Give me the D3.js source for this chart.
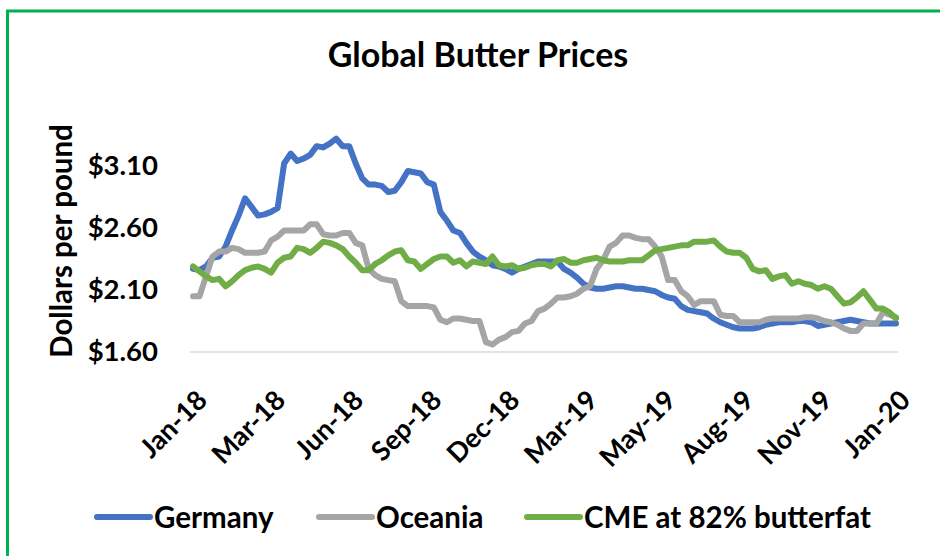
<!DOCTYPE html>
<html>
<head>
<meta charset="utf-8">
<script src="https://cdn.jsdelivr.net/npm/d3@7"></script>
<style>
  body { margin: 0; background: #fff; }
  svg { display: block; font-family: Lato, "Open Sans", sans-serif; font-weight: bold; }
</style>
</head>
<body>
<svg id="chart" width="940" height="556"></svg>
<script>
// weekly dates, Jan 5 2018 .. Jan 31 2020 (109 weeks)
var dates = d3.timeFriday.range(new Date(2018, 0, 5), new Date(2020, 1, 1));

var germany = [2.27,2.26,2.29,2.36,2.37,2.45,2.58,2.70,2.84,2.77,
  2.70,2.71,2.73,2.76,3.12,3.20,3.14,3.16,3.19,3.26,
  3.25,3.28,3.32,3.26,3.26,3.12,3.00,2.95,2.95,2.94,
  2.89,2.90,2.97,3.06,3.05,3.04,2.97,2.95,2.73,2.66,
  2.58,2.56,2.48,2.41,2.37,2.34,2.30,2.29,2.27,2.24,
  2.27,2.29,2.31,2.33,2.33,2.33,2.33,2.27,2.24,2.20,
  2.15,2.12,2.11,2.11,2.12,2.13,2.13,2.12,2.11,2.11,
  2.10,2.09,2.06,2.04,2.03,1.97,1.94,1.93,1.92,1.91,
  1.87,1.84,1.82,1.80,1.79,1.79,1.79,1.80,1.82,1.83,
  1.84,1.84,1.84,1.85,1.85,1.84,1.81,1.82,1.83,1.84,
  1.85,1.86,1.85,1.84,1.83,1.83,1.83,1.83,1.83];

var oceania = [2.05,2.05,2.21,2.37,2.41,2.41,2.44,2.43,2.40,2.40,
  2.40,2.41,2.50,2.53,2.58,2.58,2.58,2.58,2.63,2.63,
  2.55,2.54,2.54,2.56,2.56,2.48,2.46,2.27,2.22,2.19,
  2.18,2.17,2.01,1.97,1.97,1.97,1.97,1.96,1.86,1.84,
  1.87,1.87,1.86,1.85,1.85,1.68,1.66,1.70,1.72,1.76,
  1.77,1.83,1.85,1.93,1.95,1.99,2.04,2.04,2.05,2.07,
  2.11,2.13,2.27,2.34,2.45,2.48,2.54,2.54,2.52,2.51,
  2.51,2.45,2.37,2.18,2.18,2.09,2.05,1.98,2.01,2.01,
  2.01,1.90,1.89,1.89,1.84,1.84,1.84,1.84,1.86,1.87,
  1.87,1.87,1.87,1.87,1.88,1.88,1.87,1.85,1.84,1.82,
  1.79,1.77,1.77,1.83,1.83,1.83,1.92,1.90,1.88];

var cme = [2.29,2.25,2.21,2.18,2.19,2.13,2.17,2.22,2.26,2.28,
  2.29,2.27,2.24,2.32,2.36,2.37,2.44,2.43,2.40,2.44,
  2.49,2.48,2.46,2.43,2.37,2.32,2.26,2.26,2.31,2.34,
  2.38,2.41,2.42,2.34,2.33,2.27,2.31,2.35,2.37,2.37,
  2.32,2.34,2.29,2.33,2.32,2.31,2.37,2.30,2.29,2.30,
  2.27,2.28,2.30,2.31,2.31,2.29,2.34,2.35,2.32,2.32,
  2.34,2.35,2.36,2.34,2.33,2.33,2.33,2.34,2.34,2.34,
  2.38,2.42,2.43,2.44,2.45,2.46,2.46,2.49,2.49,2.49,
  2.50,2.45,2.41,2.40,2.40,2.36,2.27,2.25,2.26,2.19,
  2.21,2.22,2.15,2.17,2.15,2.14,2.11,2.13,2.11,2.05,
  1.99,2.00,2.04,2.09,2.02,1.95,1.95,1.92,1.87];

var seriesNames = ["Germany", "Oceania", "CME at 82% butterfat"];
var seriesColors = ["#4472C4", "#A5A5A5", "#70AD47"];
var yTicks = [1.6, 2.1, 2.6, 3.1];
var xTickLabels = ["Jan-18","Mar-18","Jun-18","Sep-18","Dec-18","Mar-19","May-19","Aug-19","Nov-19","Jan-20"];
var xTickStep = 12; // one label every 12 weeks

var svg = d3.select("#chart");

// outer green frame (runs off the right/bottom edge like the screenshot)
svg.append("rect")
  .attr("x", 7.5).attr("y", 11)
  .attr("width", 960).attr("height", 600)
  .attr("fill", "none")
  .attr("stroke", "#00B050")
  .attr("stroke-width", 3);

var x = d3.scaleTime()
  .domain([dates[0], dates[dates.length - 1]])
  .range([193, 896]);

var y = d3.scaleLinear()
  .domain([1.6, 3.1])
  .range([352, 166]);

// title
svg.append("text")
  .attr("x", 478).attr("y", 67)
  .attr("text-anchor", "middle")
  .style("font-size", "34px")
  .text("Global Butter Prices");

// y axis title
svg.append("text")
  .attr("transform", "translate(61,241) rotate(-90)")
  .attr("text-anchor", "middle")
  .attr("dy", "0.36em")
  .style("font-size", "29.5px")
  .text("Dollars per pound");

// y tick labels (no axis line / gridlines in the original)
var yAxis = d3.axisLeft(y)
  .tickValues(yTicks)
  .tickSize(0)
  .tickPadding(0)
  .tickFormat(d3.format("$.2f"));

var gy = svg.append("g")
  .attr("transform", "translate(158,0)")
  .call(yAxis);
gy.select(".domain").remove();
gy.selectAll("text")
  .style("font-size", "27.5px")
  .style("font-family", "Lato, sans-serif")
  .style("font-weight", "bold")
  .attr("fill", "#000");

// x axis baseline
svg.append("line")
  .attr("x1", x.range()[0] - 3).attr("x2", x.range()[1] + 2)
  .attr("y1", y(1.6)).attr("y2", y(1.6))
  .attr("stroke", "#D9D9D9")
  .attr("stroke-width", 1.3);

// x tick labels, rotated
var tickDates = xTickLabels.map(function(d, i) { return dates[i * xTickStep]; });
svg.append("g").selectAll("text")
  .data(tickDates)
  .enter()
  .append("text")
  .attr("transform", function(d) { return "translate(" + (x(d) + 9) + ",395) rotate(-45)"; })
  .attr("text-anchor", "end")
  .attr("dy", "0.36em")
  .style("font-size", "27px")
  .text(function(d, i) { return xTickLabels[i]; });

// lines
var line = d3.line()
  .x(function(d, i) { return x(dates[i]); })
  .y(function(d) { return y(d); });

[germany, oceania, cme].forEach(function(vals, k) {
  svg.append("path")
    .datum(vals)
    .attr("d", line)
    .attr("fill", "none")
    .attr("stroke", seriesColors[k])
    .attr("stroke-width", 6)
    .attr("stroke-linejoin", "round")
    .attr("stroke-linecap", "round");
});

// legend
var legendX = [97, 319, 527];
var lg = svg.append("g").attr("transform", "translate(0,517)");
seriesNames.forEach(function(name, k) {
  lg.append("line")
    .attr("x1", legendX[k]).attr("x2", legendX[k] + 53)
    .attr("y1", 0).attr("y2", 0)
    .attr("stroke", seriesColors[k])
    .attr("stroke-width", 6)
    .attr("stroke-linecap", "round");
  lg.append("text")
    .attr("x", legendX[k] + 57)
    .attr("dy", "0.36em")
    .style("font-size", "29.5px")
    .text(name);
});
</script>
</body>
</html>
